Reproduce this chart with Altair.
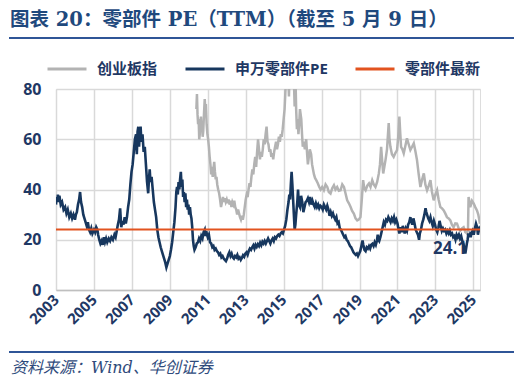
import altair as alt
import pandas as pd

# ---------------- data ----------------
blue_t = [2003.00, 2003.03, 2003.07, 2003.10, 2003.14, 2003.18, 2003.25, 2003.32, 2003.40, 2003.48,
          2003.55, 2003.62, 2003.70, 2003.78, 2003.85, 2003.92, 2004.00, 2004.05, 2004.10, 2004.16,
          2004.22, 2004.27, 2004.32, 2004.38, 2004.44, 2004.50, 2004.56, 2004.62, 2004.68, 2004.74,
          2004.80, 2004.86, 2004.92, 2005.00, 2005.06, 2005.12, 2005.18, 2005.22, 2005.28, 2005.34,
          2005.40, 2005.46, 2005.52, 2005.58, 2005.64, 2005.70, 2005.78, 2005.85, 2005.92, 2006.00,
          2006.08, 2006.14, 2006.20, 2006.26, 2006.32, 2006.38, 2006.44, 2006.50, 2006.56, 2006.62,
          2006.68, 2006.74, 2006.80, 2006.86, 2006.92, 2006.98, 2007.04, 2007.10, 2007.16, 2007.22,
          2007.26, 2007.30, 2007.34, 2007.38, 2007.42, 2007.46, 2007.50, 2007.56, 2007.62, 2007.68,
          2007.74, 2007.80, 2007.86, 2007.90, 2007.94, 2007.98, 2008.04, 2008.10, 2008.16, 2008.22,
          2008.28, 2008.34, 2008.40, 2008.46, 2008.52, 2008.58, 2008.64, 2008.70, 2008.76, 2008.82,
          2008.88, 2008.94, 2009.00, 2009.06, 2009.12, 2009.18, 2009.24, 2009.30, 2009.34, 2009.38,
          2009.42, 2009.46, 2009.50, 2009.54, 2009.58, 2009.62, 2009.66, 2009.70, 2009.74, 2009.78,
          2009.82, 2009.86, 2009.90, 2009.94, 2009.98, 2010.02, 2010.06, 2010.10, 2010.14, 2010.18,
          2010.22, 2010.26, 2010.30, 2010.36, 2010.42, 2010.48, 2010.54, 2010.60, 2010.66, 2010.72,
          2010.78, 2010.84, 2010.88, 2010.92, 2010.96, 2011.00, 2011.06, 2011.12, 2011.18, 2011.24,
          2011.30, 2011.36, 2011.42, 2011.48, 2011.54, 2011.60, 2011.66, 2011.72, 2011.78, 2011.84,
          2011.90, 2011.96, 2012.02, 2012.08, 2012.14, 2012.20, 2012.26, 2012.32, 2012.38, 2012.44,
          2012.50, 2012.56, 2012.62, 2012.68, 2012.74, 2012.80, 2012.86, 2012.92, 2012.98, 2013.04,
          2013.10, 2013.16, 2013.22, 2013.28, 2013.34, 2013.40, 2013.46, 2013.52, 2013.58, 2013.64,
          2013.70, 2013.76, 2013.82, 2013.88, 2013.94, 2014.00, 2014.06, 2014.12, 2014.18, 2014.24,
          2014.30, 2014.36, 2014.42, 2014.48, 2014.54, 2014.60, 2014.66, 2014.72, 2014.78, 2014.84,
          2014.90, 2014.96, 2015.02, 2015.08, 2015.14, 2015.20, 2015.26, 2015.30, 2015.34, 2015.38,
          2015.42, 2015.46, 2015.50, 2015.54, 2015.58, 2015.62, 2015.66, 2015.72, 2015.76, 2015.80,
          2015.86, 2015.92, 2015.98, 2016.04, 2016.10, 2016.16, 2016.22, 2016.28, 2016.34, 2016.40,
          2016.46, 2016.52, 2016.58, 2016.64, 2016.70, 2016.76, 2016.82, 2016.88, 2016.94, 2017.00,
          2017.06, 2017.12, 2017.18, 2017.24, 2017.30, 2017.36, 2017.42, 2017.48, 2017.54, 2017.60,
          2017.66, 2017.72, 2017.78, 2017.84, 2017.90, 2017.96, 2018.02, 2018.08, 2018.14, 2018.20,
          2018.26, 2018.32, 2018.38, 2018.44, 2018.50, 2018.56, 2018.62, 2018.68, 2018.74, 2018.80,
          2018.86, 2018.92, 2018.98, 2019.04, 2019.10, 2019.16, 2019.20, 2019.26, 2019.32, 2019.38,
          2019.44, 2019.50, 2019.56, 2019.62, 2019.68, 2019.74, 2019.80, 2019.86, 2019.92, 2019.96,
          2020.00, 2020.04, 2020.10, 2020.16, 2020.22, 2020.28, 2020.34, 2020.40, 2020.46, 2020.52,
          2020.58, 2020.64, 2020.70, 2020.76, 2020.82, 2020.88, 2020.94, 2021.00, 2021.06, 2021.10,
          2021.16, 2021.22, 2021.28, 2021.34, 2021.38, 2021.44, 2021.50, 2021.56, 2021.62, 2021.68,
          2021.72, 2021.78, 2021.84, 2021.90, 2021.96, 2022.02, 2022.08, 2022.14, 2022.18, 2022.24,
          2022.30, 2022.36, 2022.42, 2022.48, 2022.52, 2022.56, 2022.62, 2022.68, 2022.74, 2022.80,
          2022.86, 2022.92, 2022.98, 2023.04, 2023.10, 2023.16, 2023.22, 2023.28, 2023.34, 2023.40,
          2023.46, 2023.52, 2023.58, 2023.64, 2023.70, 2023.76, 2023.82, 2023.88, 2023.94, 2024.00,
          2024.06, 2024.12, 2024.18, 2024.24, 2024.30, 2024.36, 2024.42, 2024.48, 2024.54, 2024.58,
          2024.62, 2024.66, 2024.70, 2024.74, 2024.78, 2024.82, 2024.86, 2024.90, 2024.96, 2025.02,
          2025.08, 2025.14, 2025.20, 2025.24, 2025.28, 2025.32, 2025.35]
blue_v = [34, 37, 35, 38, 35, 37.5, 34, 35, 32, 33,
          30.5, 32, 29, 30.5, 28.5, 30, 28, 30, 31, 34,
          36, 39, 35, 33, 30, 28.5, 27, 25.5, 27, 24,
          23, 24.5, 22.5, 24, 23, 25, 24, 22, 20, 18.5,
          19.5, 18, 21, 19, 20.5, 19, 20.5, 19.5, 21, 20,
          22, 21, 23.5, 26, 28, 32.5, 25, 27.5, 26, 29,
          26.5, 29, 33, 36, 42, 47, 50, 55, 60, 62,
          54, 63, 65, 57, 63, 65, 59, 62, 55, 57,
          50, 43, 38.5, 44, 48, 43, 45, 40, 35, 32,
          29, 24, 21, 19, 17, 15.5, 14, 12.5, 11, 9,
          10.5, 12, 13.5, 16, 19, 23, 27, 33, 39, 41,
          38, 43, 40, 44, 47, 41, 44, 37, 39, 35,
          38.5, 33, 36, 32, 34, 30, 33, 30, 28.5, 25,
          20, 17.5, 16, 17, 18.5, 19, 20.5, 19.5, 21.5, 20.5,
          23, 24, 21.5, 23.5, 22, 21, 22, 19, 18.5, 17,
          17.5, 16, 16.5, 15.5, 15, 14, 14.5, 13, 13.5, 12.5,
          12, 11.5, 12.5, 14, 15, 13.5, 14.5, 13, 12.5, 13.5,
          13, 14, 12.5, 13, 12, 12.8, 13.8, 13.2, 14.5, 15,
          14, 15.5, 16.5, 16, 17, 17.8, 16.5, 18, 17.2, 18.2,
          17.5, 18.8, 17.8, 19.2, 18.5, 19.5, 18.5, 19.5, 20.5, 19.5,
          18.5, 19.8, 20.5, 19.5, 21, 20.5, 21.5, 22, 21.5, 22.5,
          23, 22.5, 24, 25.5, 28, 32, 35, 38, 36, 42,
          47, 42, 36, 30, 24, 26, 30, 35, 40, 34,
          33, 37.5, 35, 31, 33, 35, 35.5, 36.5, 35, 37,
          34, 35.5, 34, 33, 34.5, 33, 34, 32.5, 33.5, 33,
          32, 34, 33, 32, 33.5, 32, 29.5, 31, 29.5, 30.5,
          29, 28, 29, 26.5, 27, 24.5, 24, 23, 22, 21,
          21.5, 20, 19.5, 18.5, 17.5, 17, 16, 15, 14.5, 14,
          14.5, 13.5, 14.5, 15.5, 17.5, 19.7, 18, 16, 15.5, 17,
          16.5, 17.5, 16.5, 18, 18.4, 17.5, 19, 18, 19.7, 22,
          20, 19.5, 21, 23, 25, 27, 26, 28, 27.5, 29,
          28, 27, 28.5, 27.5, 29, 27, 28, 26.5, 24, 22.5,
          25, 23, 25.5, 24, 22.5, 24.5, 23.5, 26, 27, 29,
          27.5, 26, 28.5, 26.5, 24, 23, 22, 20, 22.5, 24,
          26.5, 28, 30, 32.5, 31, 30, 28.5, 27.5, 29, 27,
          25.5, 27.5, 26, 24, 23, 25, 27.5, 25.5, 23.5, 24.5,
          23.5, 24, 22.5, 23.5, 22.5, 23.7, 22, 22.5, 21, 21.5,
          20, 22, 21, 22, 20.5, 21.5, 19.5, 18.4, 16, 14.5,
          16.5, 18.5, 20, 22.5, 21, 22, 21, 22.5, 23.5, 22,
          24.5, 26.4, 25, 22, 23.5, 24.5, 24.1]

gray_t = [2010.40, 2010.43, 2010.46, 2010.49, 2010.52, 2010.55, 2010.58, 2010.61, 2010.64, 2010.67,
          2010.70, 2010.73, 2010.76, 2010.80, 2010.84, 2010.87, 2010.90, 2010.94, 2010.98, 2011.02,
          2011.06, 2011.10, 2011.14, 2011.18, 2011.22, 2011.26, 2011.30, 2011.34, 2011.38, 2011.42,
          2011.46, 2011.50, 2011.55, 2011.60, 2011.65, 2011.70, 2011.75, 2011.80, 2011.85, 2011.90,
          2011.95, 2012.00, 2012.05, 2012.10, 2012.15, 2012.20, 2012.25, 2012.30, 2012.35, 2012.40,
          2012.45, 2012.50, 2012.55, 2012.60, 2012.65, 2012.70, 2012.75, 2012.80, 2012.85, 2012.90,
          2012.95, 2013.00, 2013.05, 2013.10, 2013.15, 2013.20, 2013.25, 2013.30, 2013.35, 2013.40,
          2013.45, 2013.50, 2013.55, 2013.60, 2013.65, 2013.70, 2013.75, 2013.80, 2013.85, 2013.90,
          2013.95, 2014.00, 2014.05, 2014.10, 2014.15, 2014.20, 2014.25, 2014.30, 2014.35, 2014.40,
          2014.45, 2014.50, 2014.55, 2014.60, 2014.65, 2014.70, 2014.75, 2014.80, 2014.85, 2014.90,
          2014.95, 2015.00, 2015.05, 2015.10, 2015.15, 2015.20, 2015.25, 2015.28, 2015.32, 2015.38,
          2015.44, 2015.50, 2015.54, 2015.58, 2015.62, 2015.66, 2015.70, 2015.74, 2015.78, 2015.82,
          2015.86, 2015.93, 2015.97, 2016.01, 2016.06, 2016.12, 2016.19, 2016.24, 2016.28, 2016.33,
          2016.38, 2016.45, 2016.50, 2016.55, 2016.60, 2016.66, 2016.72, 2016.80, 2016.88, 2016.95,
          2017.03, 2017.12, 2017.21, 2017.30, 2017.38, 2017.47, 2017.56, 2017.65, 2017.73, 2017.82,
          2017.91, 2018.00, 2018.09, 2018.18, 2018.26, 2018.35, 2018.44, 2018.53, 2018.61, 2018.70,
          2018.79, 2018.88, 2018.96, 2019.05, 2019.12, 2019.19, 2019.25, 2019.32, 2019.41, 2019.50,
          2019.58, 2019.67, 2019.75, 2019.84, 2019.93, 2020.02, 2020.08, 2020.14, 2020.20, 2020.25,
          2020.31, 2020.37, 2020.45, 2020.54, 2020.58, 2020.63, 2020.71, 2020.80, 2020.89, 2020.98,
          2021.04, 2021.10, 2021.15, 2021.19, 2021.26, 2021.33, 2021.42, 2021.50, 2021.59, 2021.68,
          2021.77, 2021.86, 2021.95, 2022.03, 2022.12, 2022.21, 2022.30, 2022.39, 2022.47, 2022.56,
          2022.65, 2022.74, 2022.82, 2022.91, 2023.00, 2023.09, 2023.17, 2023.26, 2023.35, 2023.44,
          2023.52, 2023.61, 2023.70, 2023.79, 2023.87, 2023.96, 2024.05, 2024.14, 2024.23, 2024.32,
          2024.40, 2024.49, 2024.54, 2024.58, 2024.63, 2024.67, 2024.72, 2024.75, 2024.80, 2024.84,
          2024.93, 2025.02, 2025.10, 2025.19, 2025.26, 2025.35]
gray_v = [72, 78, 70, 66, 68, 60, 62, 67, 69, 64,
          66, 61, 63, 70, 76, 72, 74, 66, 62, 60,
          57, 53, 50, 46, 49, 45, 48, 51, 47, 44,
          45, 42, 40, 38.5, 36, 33, 35, 37, 35, 36.5,
          35, 36, 34.5, 36, 34, 35.5, 33, 35, 34, 35.5,
          33, 32, 30, 32, 30.5, 29, 28, 29.5, 28, 30,
          33, 36, 38, 37, 40, 42.5, 41, 45, 48, 46,
          50, 53, 49, 55, 60, 56, 52, 55, 53, 56,
          60, 58, 62, 65, 59, 58, 55, 56, 53, 54.5,
          52, 55, 57, 59, 56, 58, 61, 59, 62, 61,
          64, 68, 72, 80, 88, 95, 84, 77, 90, 115,
          135, 110, 84, 73, 86, 72, 64, 68, 62, 66,
          72, 68, 62, 57, 59, 56, 60, 54, 50, 53,
          56, 54, 50, 48, 46, 44.5, 43.7, 42.5, 41, 40,
          41, 39.7, 42, 41, 39, 38.4, 40.5, 41.7, 40, 41,
          39.5, 39.7, 42, 41, 38.5, 35.7, 34.5, 33, 31.5, 30.4,
          28.5, 27.7, 28, 29, 36, 43.7, 40.5, 39.7, 41.5, 42.4,
          41, 43.7, 42, 41, 43, 46.4, 50, 57, 51, 46.4,
          49, 51.7, 56, 66.4, 60, 57, 54, 53, 54.5, 55.7,
          61, 69, 62, 57, 56, 54.4, 57.5, 60.4, 58, 55.7,
          57, 58.4, 55, 51.7, 46, 41, 44, 46.4, 42, 39.7,
          41.5, 43.7, 39, 35.7, 38, 39.7, 36, 33, 32.5, 31.7,
          30.5, 29, 28.5, 27.7, 26, 25, 26.5, 26.4, 24.5, 23.7,
          24.5, 25, 24, 23, 22.8, 22.4, 24, 37, 35, 33,
          35.5, 34.4, 33, 31.7, 30, 26.4]

latest_value = 24.1
series_names = ["创业板指", "申万零部件PE", "零部件最新"]
series_colors = ["#B3B3B3", "#17375E", "#E2531F"]
x_start, x_end = "2003-01-01", "2025-05-09"
tick_years = list(range(2003, 2026, 2))
y_ticks = [0, 20, 40, 60, 80]

title_text = "图表 20：零部件 PE（TTM）（截至 5 月 9 日）"
source_text = "资料来源：Wind、华创证券"

NAVY = "#1F3864"
FONT = "Open Sans, Noto Sans CJK SC"


def to_dates(ts):
    out = []
    for t in ts:
        y = int(t)
        out.append(pd.Timestamp(year=y, month=1, day=1) + pd.Timedelta(days=(t - y) * 365.25))
    return out


blue_df = pd.DataFrame({"date": to_dates(blue_t), "value": blue_v, "series": series_names[1]})
blue_df.loc[blue_df.index[-1], "date"] = pd.Timestamp(x_end)
gray_df = pd.DataFrame({"date": to_dates(gray_t), "value": gray_v, "series": series_names[0]})
gray_df.loc[gray_df.index[-1], "date"] = pd.Timestamp(x_end)
orange_df = pd.DataFrame({"date": [pd.Timestamp(x_start), pd.Timestamp(x_end)],
                          "value": [latest_value, latest_value], "series": series_names[2]})
label_df = pd.DataFrame({"date": [pd.Timestamp(x_end)], "value": [latest_value],
                         "label": [f"{latest_value}"]})

x_scale = alt.Scale(domain=[alt.DateTime(year=2003, month=1, date=1),
                            alt.DateTime(year=2025, month=5, date=9)])
y_scale = alt.Scale(domain=[0, 80], nice=False)
color_scale = alt.Scale(domain=series_names, range=series_colors)

x_enc = alt.X("date:T", scale=x_scale,
              axis=alt.Axis(values=[alt.DateTime(year=y, month=1, date=1) for y in tick_years],
                            format="%Y", labelAngle=315, labelAlign="right", labelBaseline="middle",
                            labelPadding=7, labelFontSize=15, labelFontWeight="bold",
                            labelColor=NAVY, labelFont=FONT, ticks=False,
                            domainColor="#BFBFBF", domainWidth=1.5,
                            grid=True, gridColor="#D9D9D9", gridWidth=1.5, title=None))
y_enc = alt.Y("value:Q", scale=y_scale,
              axis=alt.Axis(values=y_ticks, labelFontSize=16, labelFontWeight="bold",
                            labelColor=NAVY, labelFont=FONT, labelPadding=15, ticks=False,
                            domain=False, grid=True, gridColor="#D9D9D9", gridWidth=1.5,
                            title=None))
color_enc = alt.Color("series:N", scale=color_scale,
                      legend=alt.Legend(title=None, orient="none", legendX=-10, legendY=-41,
                                        direction="horizontal", symbolType="stroke",
                                        symbolSize=1521, symbolStrokeWidth=3,
                                        labelFontSize=15, labelFontWeight="bold",
                                        labelColor=NAVY, labelFont=FONT, labelOffset=9,
                                        columnPadding=21))

gray_line = alt.Chart(gray_df).mark_line(strokeWidth=2.5, clip=True).encode(
    x=x_enc, y=y_enc, color=color_enc)
blue_line = alt.Chart(blue_df).mark_line(strokeWidth=2.6, clip=True).encode(
    x=x_enc, y=y_enc, color=color_enc)
orange_line = alt.Chart(orange_df).mark_line(strokeWidth=2).encode(
    x=x_enc, y=y_enc, color=color_enc)
label = alt.Chart(label_df).mark_text(align="right", baseline="middle", dx=-13, dy=20,
                                      fontSize=17, fontWeight="bold", color=NAVY,
                                      font=FONT).encode(x=x_enc, y=y_enc, text="label:N")

title = alt.Chart(pd.DataFrame({"t": [title_text]})).mark_text(
    align="left", baseline="middle", fontSize=19.5, fontWeight="bold", color="#1F497D",
    font="DejaVu Serif, Noto Sans CJK SC").encode(x=alt.value(-46), y=alt.value(-69), text="t:N")
source = alt.Chart(pd.DataFrame({"t": [source_text]})).mark_text(
    align="left", baseline="middle", fontSize=16, fontStyle="italic", color="#2F4B7C",
    font="DejaVu Serif, Noto Sans CJK SC").encode(x=alt.value(-45), y=alt.value(279), text="t:N")
top_rule = alt.Chart(pd.DataFrame({"k": ["top"]})).mark_rule(color="#2F5597", strokeWidth=2).encode(
    x=alt.value(-47), x2=alt.value(461), y=alt.value(-51))
bottom_rule = alt.Chart(pd.DataFrame({"k": ["bottom"]})).mark_rule(color="#2F5597", strokeWidth=2).encode(
    x=alt.value(-47), x2=alt.value(461), y=alt.value(263))

chart = alt.layer(gray_line, label, blue_line, orange_line, title, source, top_rule, bottom_rule).properties(
    width=424, height=201,
    autosize=alt.AutoSizeParams(type="none"),
    padding={"left": 48, "top": 81, "right": 34, "bottom": 88},
).configure_view(stroke=None).configure(background="white")

chart.save("out.html", embed_options={"renderer": "svg", "actions": False})
